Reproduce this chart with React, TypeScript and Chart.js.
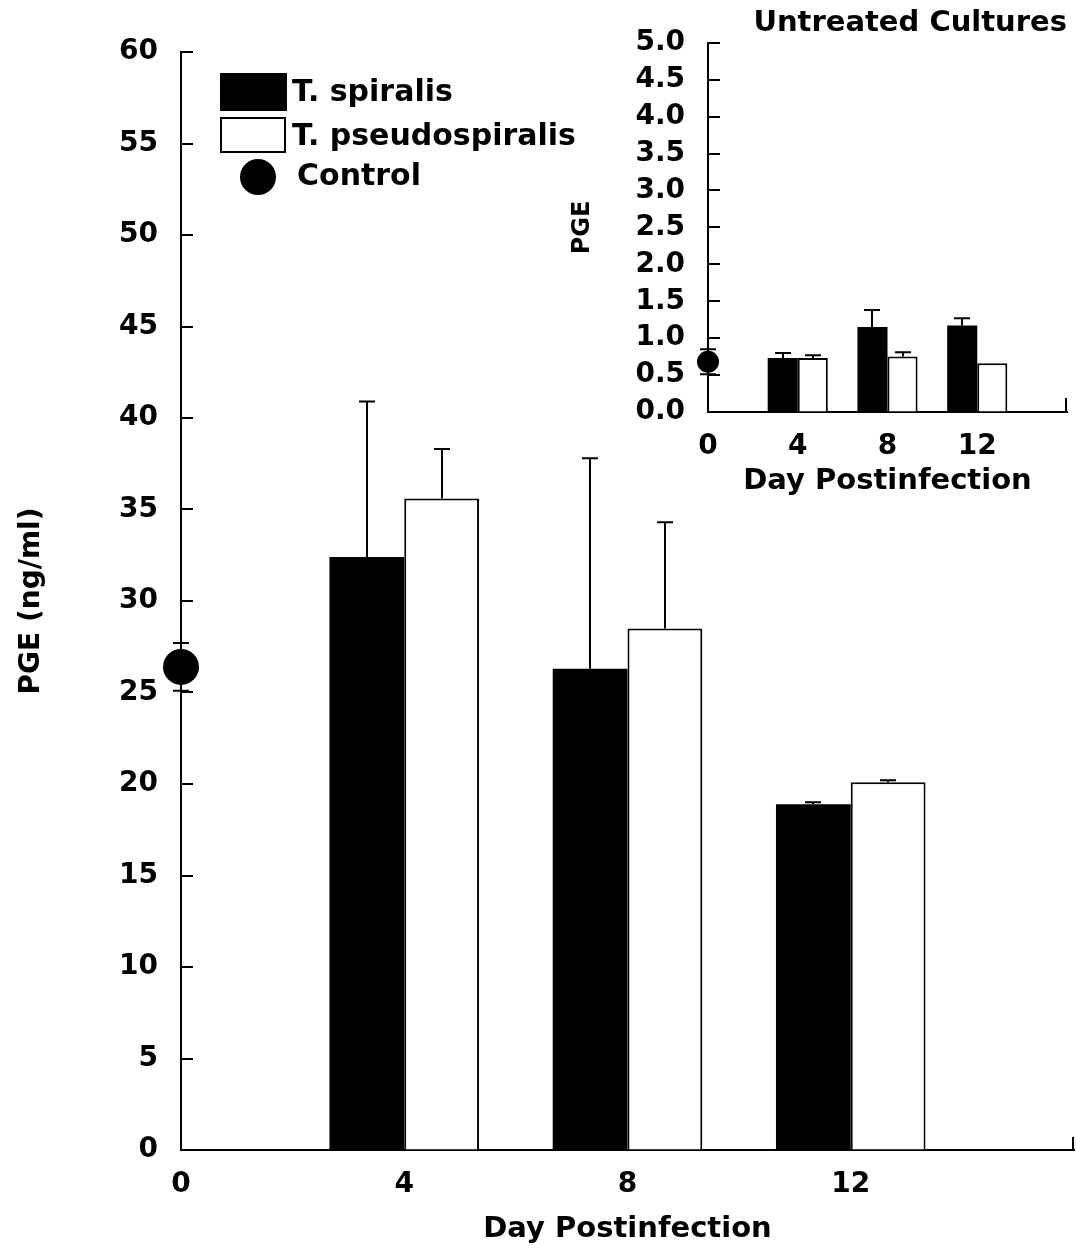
import React, { useEffect, useRef } from 'react';
import { Chart, registerables } from 'chart.js';

Chart.register(...registerables);

// ---- Data: PGE (ng/ml) in stimulated cultures ----
const days = [4, 8, 12];
const spiralisMean = [32.4, 26.3, 18.9];
const spiralisErr = [8.5, 11.5, 0.1];
const pseudoMean = [35.6, 28.5, 20.1];
const pseudoErr = [2.7, 5.8, 0.1];
const controlDay = [0];
const controlMean = [26.4];
const controlErr = [1.3];

// ---- Data: PGE in untreated cultures ----
const untreatedSpiralisMean = [0.73, 1.15, 1.17];
const untreatedSpiralisErr = [0.07, 0.23, 0.1];
const untreatedPseudoMean = [0.73, 0.75, 0.66];
const untreatedPseudoErr = [0.04, 0.06, 0];
const untreatedControlMean = [0.68];
const untreatedControlErr = [0.17];

const mainYTicks = { min: 0, max: 60, step: 5 };
const insetYTicks = { min: 0, max: 5, step: 0.5 };
const dayTicks = { min: 0, max: 16, step: 4, lastLabelled: 12 };

const FONT = 'DejaVu Sans';
const INK = '#000';
const CLEAR = 'rgba(0,0,0,0)';

const pts = (xs: number[], ys: number[]) => xs.map((x, i) => ({ x, y: ys[i] }));

// inward tick marks on the value axis and a closing tick at the end of the day axis
const axisMarks = {
  id: 'axisMarks',
  beforeDatasetsDraw(chart: any, _a: any, opts: any) {
    const { ctx, chartArea, scales } = chart;
    const { x, y } = scales;
    ctx.save();
    ctx.strokeStyle = INK;
    ctx.lineWidth = 2;
    ctx.beginPath();
    y.ticks.forEach((t: any) => {
      const py = Math.round(y.getPixelForValue(t.value));
      ctx.moveTo(chartArea.left, py);
      ctx.lineTo(chartArea.left + opts.len, py);
    });
    const ex = Math.round(x.getPixelForValue(x.max)) - 1;
    ctx.moveTo(ex, chartArea.bottom);
    ctx.lineTo(ex, chartArea.bottom - opts.endLen);
    ctx.stroke();
    ctx.restore();
  },
};

// vertical error bars with caps (upward for bars, both ways for points)
const errorBars = {
  id: 'errorBars',
  afterDatasetsDraw(chart: any, _a: any, opts: any) {
    const { ctx } = chart;
    const ys = chart.scales.y;
    const cap = opts.cap ?? 8;
    ctx.save();
    ctx.strokeStyle = INK;
    ctx.lineWidth = opts.lineWidth ?? 2;
    chart.data.datasets.forEach((ds: any, di: number) => {
      if (!ds.errors) return;
      const meta = chart.getDatasetMeta(di);
      meta.data.forEach((el: any, i: number) => {
        const e = ds.errors[i];
        if (!e) return;
        const v = ds.data[i].y;
        const x = Math.round(el.x);
        const top = ys.getPixelForValue(v + e);
        const base = ds.type === 'scatter' ? ys.getPixelForValue(v - e) : ys.getPixelForValue(v);
        ctx.beginPath();
        ctx.moveTo(x, base);
        ctx.lineTo(x, top);
        ctx.moveTo(x - cap, top);
        ctx.lineTo(x + cap, top);
        if (ds.type === 'scatter') {
          ctx.moveTo(x - cap, base);
          ctx.lineTo(x + cap, base);
        }
        ctx.stroke();
      });
    });
    ctx.restore();
  },
};

// key drawn in the upper-left of the plot
const keyBox = {
  id: 'keyBox',
  afterDraw(chart: any) {
    const { ctx, chartArea } = chart;
    const ds = chart.data.datasets;
    const x0 = chartArea.left + 39;
    const y0 = chartArea.top;
    ctx.save();
    ctx.font = `bold 30px "${FONT}"`;
    ctx.textBaseline = 'middle';
    ctx.textAlign = 'left';
    // filled box
    ctx.fillStyle = ds[0].backgroundColor;
    ctx.fillRect(x0, y0 + 21, 67, 38);
    ctx.fillStyle = INK;
    ctx.fillText(ds[0].label, x0 + 72, y0 + 41);
    // open box
    ctx.fillStyle = ds[1].backgroundColor;
    ctx.fillRect(x0, y0 + 65, 66, 36);
    ctx.lineWidth = 2;
    ctx.strokeStyle = INK;
    ctx.strokeRect(x0 + 1, y0 + 66, 64, 34);
    ctx.fillStyle = INK;
    ctx.fillText(ds[1].label, x0 + 72, y0 + 85);
    // point
    ctx.beginPath();
    ctx.arc(x0 + 38, y0 + 125, 18, 0, Math.PI * 2);
    ctx.fill();
    ctx.fillText(ds[2].label, x0 + 77, y0 + 125);
    ctx.restore();
  },
};

function makeConfig(o: any) {
  return {
    type: 'bar',
    data: {
      datasets: [
        {
          type: 'bar', label: 'T. spiralis', data: pts(days, o.sMean), errors: o.sErr,
          backgroundColor: INK, borderColor: INK, borderWidth: 0,
          categoryPercentage: 0.67, barPercentage: 1.0,
        },
        {
          type: 'bar', label: 'T. pseudospiralis', data: pts(days, o.pMean), errors: o.pErr,
          backgroundColor: '#fff', borderColor: INK, borderWidth: 2,
          categoryPercentage: 0.67, barPercentage: 1.0,
        },
        {
          type: 'scatter', label: 'Control', data: pts(controlDay, o.cMean), errors: o.cErr,
          backgroundColor: INK, borderWidth: 0, pointRadius: o.pointR, pointHoverRadius: o.pointR,
          clip: false,
        },
      ],
    },
    options: {
      responsive: false,
      maintainAspectRatio: false,
      animation: false,
      events: [],
      layout: { padding: o.padding, autoPadding: false },
      plugins: {
        legend: { display: false },
        tooltip: { enabled: false },
        title: o.title
          ? {
              display: true, text: o.title, align: 'end', color: INK,
              font: { family: FONT, size: 29, weight: 'bold' },
              padding: { top: 6, bottom: 2 },
            }
          : { display: false },
        errorBars: { cap: o.cap, lineWidth: 2 },
        axisMarks: { len: o.tickLen, endLen: o.endLen },
      },
      scales: {
        x: {
          type: 'linear', offset: false,
          min: dayTicks.min, max: dayTicks.max,
          afterFit: (s: any) => { s.height = o.xHeight; },
          // the axis runs on past the last labelled day without a label
          afterBuildTicks: (s: any) => {
            s.ticks = s.ticks.filter((t: any) => t.value <= dayTicks.lastLabelled);
          },
          ticks: {
            stepSize: dayTicks.step, color: INK, padding: 3,
            font: { family: FONT, size: 28, weight: 'bold' },
          },
          grid: {
            offset: false, drawOnChartArea: false, drawTicks: true,
            tickLength: o.xLabelGap, color: CLEAR,
          },
          border: { display: true, color: INK, width: 2 },
          title: {
            display: true, text: 'Day Postinfection', color: INK,
            font: { family: FONT, size: 29, weight: 'bold' },
            padding: { top: 0, bottom: o.xTitlePad },
          },
        },
        y: {
          min: o.yTicks.min, max: o.yTicks.max,
          afterFit: (s: any) => { s.width = o.yWidth; },
          ticks: {
            stepSize: o.yTicks.step, color: INK, padding: o.yPad,
            font: { family: FONT, size: 28, weight: 'bold' },
            callback: o.yFmt,
          },
          grid: { drawOnChartArea: false, drawTicks: false },
          border: { display: true, color: INK, width: 2 },
          title: {
            display: true, text: o.yTitle, color: INK,
            font: { family: FONT, size: o.yTitleSize, weight: 'bold' },
            padding: { top: o.yTitlePad, bottom: 0 },
          },
        },
      },
    },
    plugins: [axisMarks, errorBars, ...o.plugins],
  };
}

export default function App() {
  const mainRef = useRef<HTMLCanvasElement>(null);
  const insetRef = useRef<HTMLCanvasElement>(null);

  useEffect(() => {
    const main = new Chart(mainRef.current as HTMLCanvasElement, makeConfig({
      sMean: spiralisMean, sErr: spiralisErr,
      pMean: pseudoMean, pErr: pseudoErr,
      cMean: controlMean, cErr: controlErr,
      pointR: 18, cap: 8, tickLen: 12, endLen: 13,
      padding: { left: 0, right: 2, top: 52, bottom: 0 },
      xHeight: 104, xLabelGap: 15, xTitlePad: 7,
      yWidth: 181, yPad: 23, yTicks: mainYTicks,
      yFmt: (v: number) => String(v),
      yTitle: 'PGE (ng/ml)', yTitleSize: 28, yTitlePad: 15,
      plugins: [keyBox],
    }) as any);

    const inset = new Chart(insetRef.current as HTMLCanvasElement, makeConfig({
      sMean: untreatedSpiralisMean, sErr: untreatedSpiralisErr,
      pMean: untreatedPseudoMean, pErr: untreatedPseudoErr,
      cMean: untreatedControlMean, cErr: untreatedControlErr,
      pointR: 11, cap: 8, tickLen: 12, endLen: 14,
      title: 'Untreated Cultures',
      padding: { left: 0, right: 9, top: 0, bottom: 0 },
      xHeight: 88, xLabelGap: 15, xTitlePad: 1,
      yWidth: 148, yPad: 23, yTicks: insetYTicks,
      yFmt: (v: number) => v.toFixed(1),
      yTitle: 'PGE', yTitleSize: 24, yTitlePad: 8,
      plugins: [],
    }) as any);

    return () => {
      main.destroy();
      inset.destroy();
    };
  }, []);

  return (
    <div style={{ position: 'absolute', left: 0, top: 0, width: 1076, height: 1254, background: '#fff' }}>
      <canvas ref={mainRef} width={1076} height={1254}
        style={{ position: 'absolute', left: 0, top: 0, width: 1076, height: 1254 }} />
      <canvas ref={insetRef} width={516} height={500}
        style={{ position: 'absolute', left: 560, top: 0, width: 516, height: 500 }} />
    </div>
  );
}
